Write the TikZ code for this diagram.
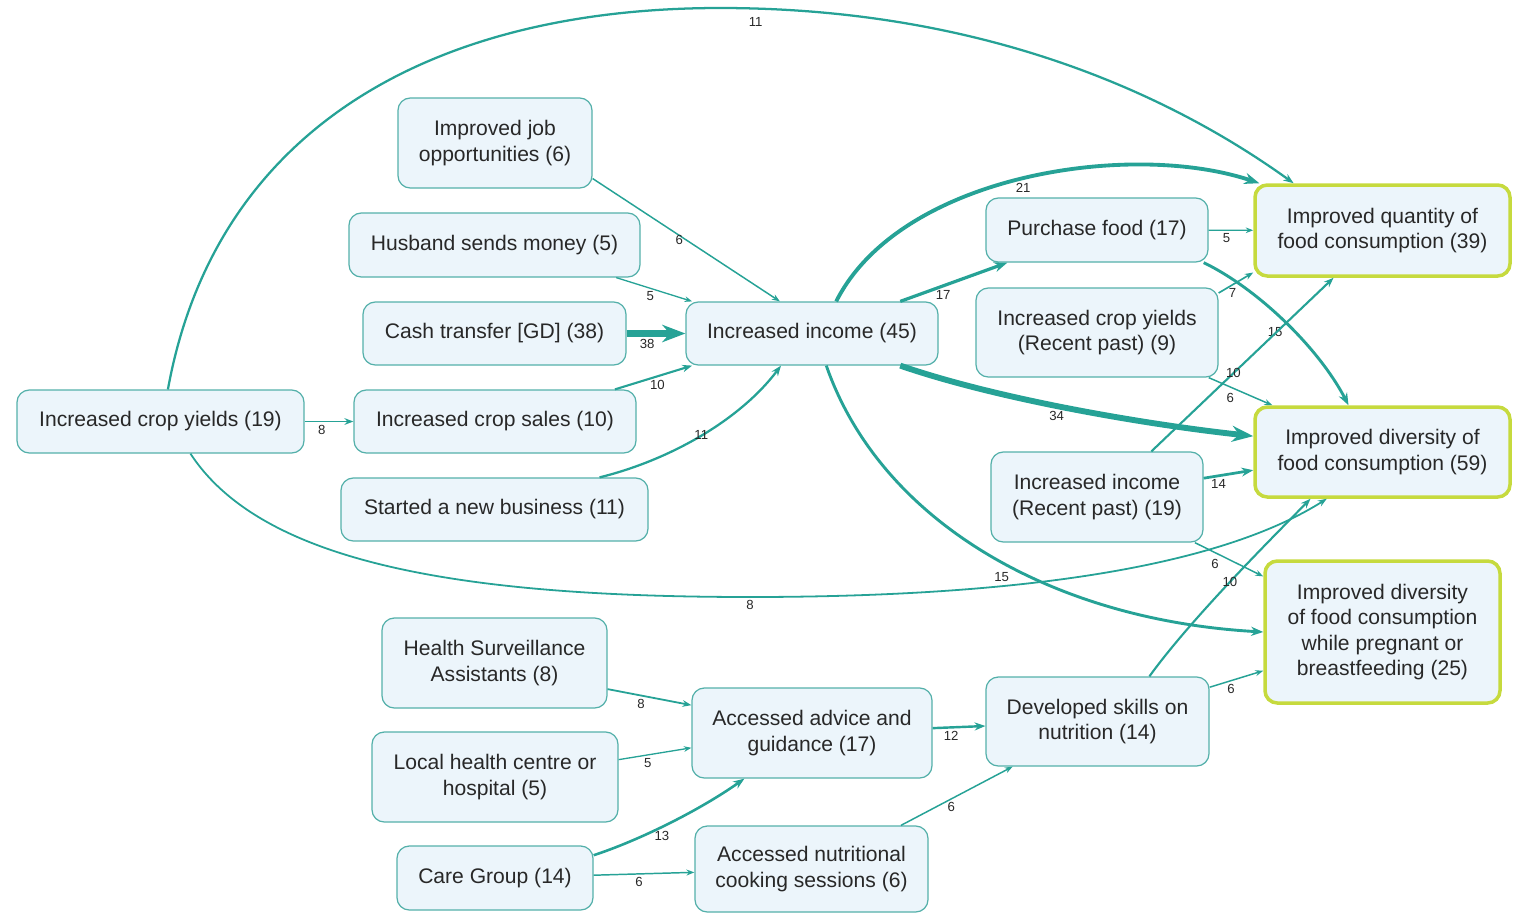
\documentclass[tikz,border=0pt]{standalone}
\usepackage{fontspec}
\setmainfont{Liberation Sans}
\usetikzlibrary{arrows.meta}

\definecolor{flowcol}{RGB}{38,162,150}
\definecolor{boxline}{RGB}{84,176,170}
\definecolor{boxfill}{RGB}{236,245,251}
\definecolor{outline}{RGB}{198,218,62}
\definecolor{txt}{RGB}{40,40,40}

\begin{document}
\begin{tikzpicture}[x=0.02cm, y=-0.02cm,
    box/.style={draw=boxline, fill=boxfill, rounded corners=7pt, line width=0.7pt, align=center, text=txt, font=\fontsize{12}{14.5}\selectfont, inner sep=2pt},
    outcome/.style={box, draw=outline, line width=2pt},
    sz/.style 2 args={minimum width=#1*0.02cm, minimum height=#2*0.02cm},
    flow/.style={draw=flowcol, line width=0.3pt+#1*0.09pt, -{Stealth[length=2pt 3]}},
    lbl/.style={font=\fontsize{7.5}{8}\selectfont, text=txt, inner sep=1.5pt}]
    \useasboundingbox (0,0) rectangle (1516,914);

    \node[box, sz={287}{63}] (cropY) at (160.5,421.5) {Increased crop yields (19)};
    \node[box, sz={194}{90}] (job) at (495,143) {Improved job\\opportunities (6)};
    \node[box, sz={291}{64}] (husband) at (494.5,245) {Husband sends money (5)};
    \node[box, sz={263}{63}] (cash) at (494.5,333.5) {Cash transfer [GD] (38)};
    \node[box, sz={282}{63}] (cropS) at (495,421.5) {Increased crop sales (10)};
    \node[box, sz={307}{63}] (business) at (494.5,509.5) {Started a new business (11)};
    \node[box, sz={252}{63}] (income) at (812,333.5) {Increased income (45)};
    \node[box, sz={222}{64}] (purchase) at (1097,230) {Purchase food (17)};
    \node[box, sz={242}{89}] (cropR) at (1097,332.5) {Increased crop yields\\(Recent past) (9)};
    \node[box, sz={212}{90}] (incomeR) at (1097,497) {Increased income\\(Recent past) (19)};
    \node[outcome, sz={255}{91}] (quantity) at (1382.5,230.5) {Improved quantity of\\food consumption (39)};
    \node[outcome, sz={255}{90}] (diversity) at (1382.5,452) {Improved diversity of\\food consumption (59)};
    \node[outcome, sz={235}{142}] (pregnant) at (1382.5,632) {Improved diversity\\of food consumption\\while pregnant or\\breastfeeding (25)};
    \node[box, sz={225}{90}] (hsa) at (494.5,663) {Health Surveillance\\Assistants (8)};
    \node[box, sz={246}{90}] (local) at (495,777) {Local health centre or\\hospital (5)};
    \node[box, sz={196}{64}] (care) at (495,878) {Care Group (14)};
    \node[box, sz={240}{90}] (advice) at (812,733) {Accessed advice and\\guidance (17)};
    \node[box, sz={233}{86}] (cooking) at (811.5,869) {Accessed nutritional\\cooking sessions (6)};
    \node[box, sz={223}{89}] (skills) at (1097.5,721.5) {Developed skills on\\nutrition (14)};

    \draw[flow=11] (cropY.77) .. controls (215,130) and (430,8) .. (720,8) .. controls (960,8) and (1150,80) .. (quantity.152) node[lbl, pos=0.05, below=3pt] {11};
    \draw[flow=8] (cropY) -- (cropS) node[lbl, pos=0.35, below] {8};
    \draw[flow=8] (cropY.-47) .. controls (260,560) and (450,597) .. (750,597) node[lbl, pos=1, below] {8} .. controls (1050,597) and (1230,560) .. (diversity.220);

    \draw[flow=6] (job.-20) -- (income.135) node[lbl, pos=0.5, left] {6};
    \draw[flow=5] (husband.-15) -- (income.165) node[lbl, pos=0.45, below] {5};
    \draw[flow=38] (cash) -- (income) node[lbl, pos=0.35, below] {38};
    \draw[flow=10] (cropS.15) -- (income.195) node[lbl, pos=0.55, below] {10};
    \draw[flow=11] (business.17) .. controls (670,460) and (740,420) .. (income.226) node[lbl, pos=0.5] {11};

    \draw[flow=21] (income.53) .. controls (900,175) and (1130,140) .. (quantity.159) node[lbl, pos=0.5, below] {21};
    \draw[flow=17] (income.20) -- (purchase.200) node[lbl, pos=0.4, below] {17};
    \draw[flow=34] (income.-20) .. controls (1000,400) and (1150,425) .. (diversity.173) node[lbl, pos=0.45, below] {34};
    \draw[flow=15] (income.-66) .. controls (880,520) and (1050,620) .. (pregnant.west) node[lbl, pos=0.56, below left] {15};

    \draw[flow=5] (purchase) -- (quantity) node[lbl, pos=0.4, below] {5};
    \draw[flow=15] (purchase.-17) .. controls (1260,290) and (1320,350) .. (diversity.126) node[lbl, pos=0.5, below left] {15};
    \draw[flow=7] (cropR.18) -- (quantity.198) node[lbl, pos=0.4, below] {7};
    \draw[flow=6] (cropR.-22) -- (diversity.157) node[lbl, pos=0.45, below left] {6};
    \draw[flow=10] (incomeR.40) -- (quantity.224) node[lbl, pos=0.45] {10};
    \draw[flow=14] (incomeR.10) -- (diversity.188) node[lbl, pos=0.3, below] {14};
    \draw[flow=6] (incomeR.-25) -- (pregnant.155) node[lbl, pos=0.4, below left] {6};

    \draw[flow=8] (hsa.-13) -- (advice.167) node[lbl, pos=0.4, below] {8};
    \draw[flow=5] (local.8) -- (advice.187) node[lbl, pos=0.4, below] {5};
    \draw[flow=13] (care.13) .. controls (640,840) and (700,810) .. (advice.214) node[lbl, pos=0.45, below] {13};
    \draw[flow=6] (care) -- (cooking) node[lbl, pos=0.45, below] {6};
    \draw[flow=12] (advice) -- (skills) node[lbl, pos=0.35, below] {12};
    \draw[flow=6] (cooking.26) -- (skills.208) node[lbl, pos=0.45, below] {6};
    \draw[flow=10] (skills.41) .. controls (1190,620) and (1270,540) .. (diversity.213) node[lbl, pos=0.5] {10};
    \draw[flow=6] (skills.17) -- (pregnant.198) node[lbl, pos=0.4, below] {6};
\end{tikzpicture}
\end{document}
